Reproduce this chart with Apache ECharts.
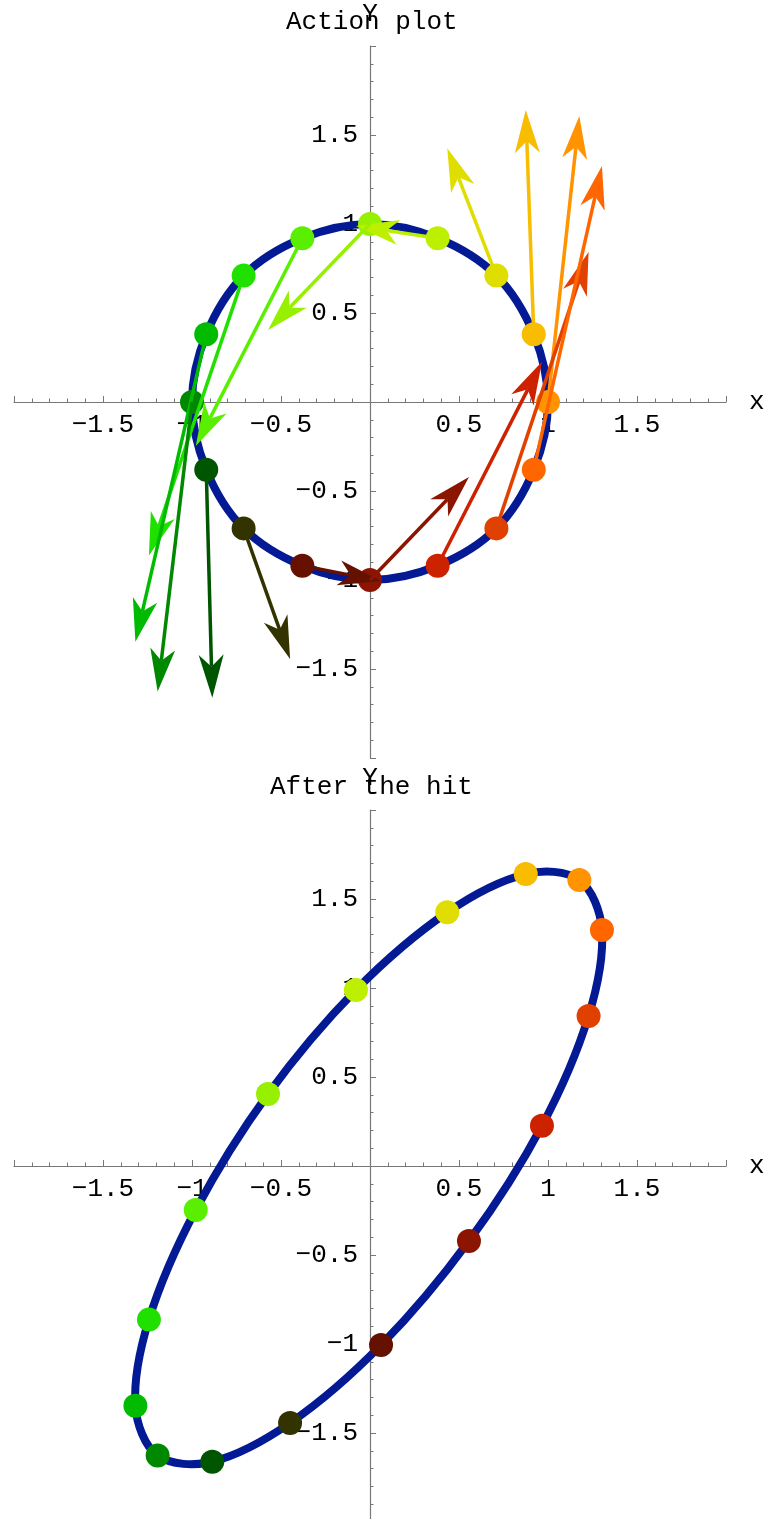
<!DOCTYPE html>
<html>
<head>
<meta charset="utf-8">
<script src="https://cdn.jsdelivr.net/npm/echarts@6/dist/echarts.min.js"></script>
<style>
  html, body { margin: 0; padding: 0; background: #fff; }
  #chart { width: 765px; height: 1519px; }
</style>
</head>
<body>
<div id="chart"></div>
<script>
// Sixteen points on the unit circle, in angle order starting at (1, 0)
const circleX = [1, 0.92, 0.71, 0.38, 0, -0.38, -0.71, -0.92, -1, -0.92, -0.71, -0.38, 0, 0.38, 0.71, 0.92];
const circleY = [0, 0.38, 0.71, 0.92, 1, 0.92, 0.71, 0.38, 0, -0.38, -0.71, -0.92, -1, -0.92, -0.71, -0.38];

// Where each of those points lands after the hit
const hitX = [1.176, 0.875, 0.434, -0.079, -0.573, -0.979, -1.242, -1.318, -1.193, -0.886, -0.449, 0.062, 0.556, 0.966, 1.228, 1.303];
const hitY = [1.607, 1.640, 1.425, 0.989, 0.404, -0.247, -0.863, -1.347, -1.627, -1.661, -1.444, -1.006, -0.421, 0.226, 0.843, 1.326];

// One colour per point
const pointColors = ['#ff9400', '#f8bc00', '#e0dd00', '#bdf000', '#96f000', '#5aef00', '#20e000', '#00bb00',
                     '#008800', '#005500', '#333300', '#661100', '#8b1500', '#cc2200', '#e04000', '#ff6600'];

// Axis tick labels
const tickValues = [-1.5, -1, -0.5, 0.5, 1, 1.5];
const panelTitles = ['Action plot', 'After the hit'];

const FONT = "'Courier New', 'Liberation Mono', monospace";
const CURVE_COLOR = '#031a94';
const AXIS_COLOR = '#777777';
const PANEL = 712;          // square plotting area, px
const HALF = PANEL / 2;     // axes cross in the middle of each panel

function tickFormatter(v) {
  const hit = tickValues.find(t => Math.abs(t - v) < 1e-9);
  return hit === undefined ? '' : String(hit).replace('-', '\u2212');
}

function axisCommon() {
  return {
    type: 'value', min: -2, max: 2, interval: 0.5,
    nameLocation: 'end',
    nameTextStyle: { fontFamily: FONT, fontSize: 26, color: '#000' },
    axisLine: { onZero: false, lineStyle: { color: AXIS_COLOR, width: 1.2 } },
    axisTick: { inside: true, length: 6, lineStyle: { color: AXIS_COLOR, width: 1 } },
    minorTick: { show: true, splitNumber: 5, length: 3.5, lineStyle: { color: AXIS_COLOR, width: 1 } },
    splitLine: { show: false }, minorSplitLine: { show: false }
  };
}

// Axes are shifted into the middle of the panel so they cross at the origin
function makeXAxis(gridIndex) {
  return Object.assign(axisCommon(), {
    gridIndex, position: 'bottom', offset: -HALF,
    name: 'x', nameGap: 23,
    axisLabel: { formatter: tickFormatter, margin: 10, fontFamily: FONT, fontSize: 26, color: '#000', hideOverlap: false }
  });
}

function makeYAxis(gridIndex) {
  return Object.assign(axisCommon(), {
    gridIndex, position: 'left', offset: -HALF,
    name: 'Y', nameGap: 19,
    axisLabel: { formatter: tickFormatter, margin: 12, fontFamily: FONT, fontSize: 26, color: '#000', hideOverlap: false }
  });
}

// Closed smooth curve through a ring of points
function curveSeries(idx, xs, ys) {
  return {
    type: 'custom', xAxisIndex: idx, yAxisIndex: idx, z: 2, clip: false, silent: true,
    data: [[0, 0]],
    renderItem(params, api) {
      const pts = xs.map((x, i) => api.coord([x, ys[i]]));
      return {
        type: 'polygon',
        shape: { points: pts, smooth: 0.343 },
        style: { fill: 'none', stroke: CURVE_COLOR, lineWidth: 8, lineJoin: 'round' }
      };
    }
  };
}

function pointSeries(idx, xs, ys) {
  return {
    type: 'scatter', xAxisIndex: idx, yAxisIndex: idx, z: 3, silent: true,
    symbol: 'circle', symbolSize: 24,
    data: xs.map((x, i) => ({ value: [x, ys[i]], itemStyle: { color: pointColors[i], opacity: 1 } }))
  };
}

// Arrows from each circle point to its position after the hit
function arrowSeries(idx) {
  return {
    type: 'custom', xAxisIndex: idx, yAxisIndex: idx, z: 4, clip: false, silent: true,
    data: circleX.map((x, i) => [x, circleY[i], hitX[i], hitY[i], i]),
    renderItem(params, api) {
      const p0 = api.coord([api.value(0), api.value(1)]);
      const p1 = api.coord([api.value(2), api.value(3)]);
      const color = pointColors[api.value(4)];
      let dx = p1[0] - p0[0], dy = p1[1] - p0[1];
      const len = Math.hypot(dx, dy) || 1;
      dx /= len; dy /= len;
      const nx = -dy, ny = dx;
      const L = 43, W = 12.5, N = 12;
      const bx = p1[0] - dx * L, by = p1[1] - dy * L;
      const mx = p1[0] - dx * (L - N), my = p1[1] - dy * (L - N);
      return {
        type: 'group',
        children: [
          { type: 'line', shape: { x1: p0[0], y1: p0[1], x2: mx, y2: my },
            style: { stroke: color, lineWidth: 3.5 } },
          { type: 'polygon',
            shape: { points: [[p1[0], p1[1]], [bx + nx * W, by + ny * W], [mx, my], [bx - nx * W, by - ny * W]] },
            style: { fill: color } }
        ]
      };
    }
  };
}

const chart = echarts.init(document.getElementById('chart'), null, { renderer: 'canvas' });
chart.setOption({
  animation: false,
  backgroundColor: '#ffffff',
  title: [
    { text: panelTitles[0], left: 281, top: 4,
      textStyle: { fontFamily: FONT, fontSize: 26, fontWeight: 'normal', color: '#000' } },
    { text: panelTitles[1], left: 265, top: 769,
      textStyle: { fontFamily: FONT, fontSize: 26, fontWeight: 'normal', color: '#000' } }
  ],
  grid: [
    { left: 14, top: 46, width: PANEL, height: PANEL, outerBoundsMode: 'none', containLabel: false },
    { left: 14, top: 810, width: PANEL, height: PANEL, outerBoundsMode: 'none', containLabel: false }
  ],
  xAxis: [makeXAxis(0), makeXAxis(1)],
  yAxis: [makeYAxis(0), makeYAxis(1)],
  series: [
    curveSeries(0, circleX, circleY),
    pointSeries(0, circleX, circleY),
    arrowSeries(0),
    curveSeries(1, hitX, hitY),
    pointSeries(1, hitX, hitY)
  ]
});
</script>
</body>
</html>
